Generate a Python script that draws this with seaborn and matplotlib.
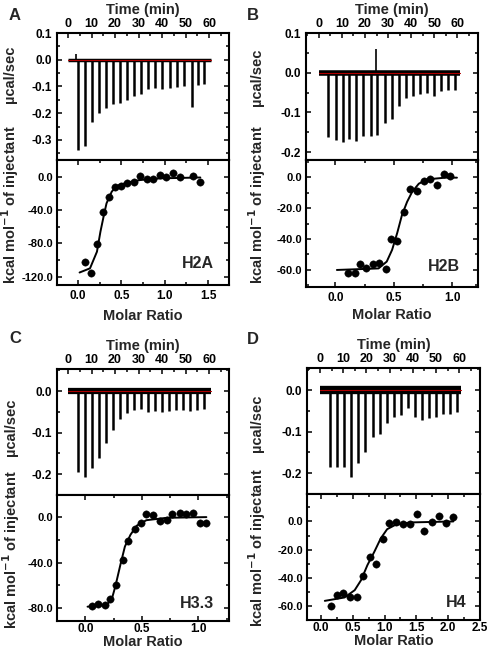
import matplotlib
matplotlib.use("Agg")
import matplotlib.pyplot as plt
import seaborn as sns
import pandas as pd
from matplotlib.ticker import FormatStrFormatter, MultipleLocator, AutoMinorLocator

sns.set_style("ticks")
plt.rcParams['font.family'] = ['Liberation Sans', 'DejaVu Sans']
plt.rcParams['font.weight'] = 'bold'
plt.rcParams['axes.unicode_minus'] = False

# ---- raw thermograms: injection time (min) and peak minimum (ucal/sec) ----
a_inj_time = [4.3, 7.4, 10.2, 13.2, 16.3, 19.1, 22.3, 25.2, 28.2, 31.2, 34.2, 37.2, 40.1, 43.3, 46.2, 49.2, 52.6, 55.2, 58.0]
a_inj_peak = [-0.336, -0.322, -0.234, -0.198, -0.180, -0.166, -0.162, -0.149, -0.137, -0.128, -0.110, -0.106, -0.108, -0.105, -0.101, -0.100, -0.178, -0.096, -0.089]
b_inj_time = [4.1, 7.3, 10.3, 13.2, 16.3, 19.3, 22.4, 25.4, 28.5, 31.7, 34.6, 37.6, 40.7, 43.8, 46.8, 50.0, 52.9, 56.0, 58.9]
b_inj_peak = [-0.161, -0.170, -0.174, -0.168, -0.171, -0.159, -0.159, -0.157, -0.128, -0.117, -0.085, -0.063, -0.058, -0.054, -0.050, -0.058, -0.046, -0.043, -0.043]
c_inj_time = [4.3, 7.2, 10.2, 13.2, 16.0, 19.1, 22.1, 25.1, 28.1, 31.1, 33.9, 37.0, 40.0, 43.0, 45.8, 48.9, 51.9, 54.9, 57.7]
c_inj_peak = [-0.194, -0.206, -0.186, -0.161, -0.126, -0.094, -0.068, -0.052, -0.046, -0.042, -0.050, -0.048, -0.051, -0.048, -0.046, -0.046, -0.048, -0.046, -0.042]
d_inj_time = [4.4, 7.3, 10.3, 13.5, 16.6, 19.6, 22.7, 25.7, 28.8, 31.8, 34.9, 37.9, 41.0, 44.0, 47.1, 50.1, 53.2, 56.2, 59.2]
d_inj_peak = [-0.184, -0.184, -0.184, -0.210, -0.176, -0.150, -0.114, -0.106, -0.080, -0.066, -0.060, -0.044, -0.064, -0.072, -0.068, -0.064, -0.058, -0.058, -0.054]

# upward artefacts in the raw traces
a_up_time = [3.4]
a_up_peak = [0.02]
b_up_time = [24.7]
b_up_peak = [0.059]

# ---- integrated heats (kcal/mol of injectant) vs molar ratio ----
a_ratio = [0.085, 0.15, 0.22, 0.29, 0.36, 0.43, 0.50, 0.57, 0.65, 0.72, 0.80, 0.87, 0.95, 1.02, 1.10, 1.18, 1.33, 1.41]
a_heat = [-102, -115, -81, -43, -24, -12, -11, -8, -6, 1, -3, -3, 2, 0, 4, 0, 1, -6]
a_fit_ratio = [0.02, 0.14, 0.22, 0.26, 0.30, 0.33, 0.39, 0.45, 0.57, 0.72, 0.95, 1.41]
a_fit_heat = [-115, -110, -90, -66, -46, -32, -18, -11, -7, -4, -2, -1]

b_ratio = [0.11, 0.166, 0.214, 0.266, 0.32, 0.37, 0.43, 0.48, 0.53, 0.586, 0.64, 0.70, 0.757, 0.81, 0.87, 0.93, 0.98]
b_heat = [-62, -62, -56, -58.5, -56, -55.7, -59.5, -40, -41, -22.5, -7.5, -9, -2.6, -1, -5, 2, 0.6]
b_fit_ratio = [0.014, 0.37, 0.44, 0.486, 0.53, 0.57, 0.614, 0.657, 0.714, 0.786, 0.94, 1.04]
b_fit_heat = [-60, -59, -54.6, -47, -36, -24.6, -16, -9.6, -4.3, -1.5, -0.4, -0.4]

c_ratio = [0.06, 0.11, 0.17, 0.22, 0.27, 0.33, 0.38, 0.435, 0.49, 0.54, 0.60, 0.66, 0.72, 0.77, 0.84, 0.89, 0.95, 1.01, 1.07]
c_heat = [-78, -76, -77, -72, -60, -38, -21.5, -11, -5.3, 2.7, 1.5, -3.8, -3.2, 2, 3.5, 2, 3.5, -5.3, -5.3]
c_fit_ratio = [0.02, 0.19, 0.235, 0.265, 0.31, 0.35, 0.40, 0.456, 0.54, 0.72, 1.07]
c_fit_heat = [-78.5, -77, -71.6, -61, -42, -26, -15.6, -7.7, -3, -0.9, -0.3]

d_ratio = [0.15, 0.25, 0.35, 0.45, 0.56, 0.66, 0.77, 0.86, 0.97, 1.07, 1.18, 1.29, 1.40, 1.51, 1.62, 1.74, 1.85, 1.96, 2.08]
d_heat = [-60, -52, -50.5, -54, -53.6, -39, -25.5, -30.5, -12.6, -1.2, -0.5, -2, -2, 5.5, -7, -0.7, 4, -1.2, 2.9]
d_fit_ratio = [0.06, 0.37, 0.53, 0.63, 0.73, 0.84, 0.94, 1.04, 1.17, 1.40, 2.08]
d_fit_heat = [-56.4, -54, -48.8, -41.7, -31, -21.4, -12, -5.5, -2.4, -0.7, 0]

W, H = 489, 651
fig = plt.figure(figsize=(W / 100, H / 100), dpi=100)


def box(left, right, top, bottom):
    return [left / W, 1 - bottom / H, (right - left) / W, (bottom - top) / H]


def style_axes(ax):
    for s in ax.spines.values():
        s.set_linewidth(1.5)
        s.set_color("black")
    ax.tick_params(which="both", direction="in", width=1.1, colors="black", labelsize=8.5)
    ax.tick_params(which="major", length=3.5)
    ax.tick_params(which="minor", length=2)
    for lab in ax.get_xticklabels() + ax.get_yticklabels():
        lab.set_fontweight("bold")


def draw_panel(p):
    l, r, t, sp, b = p["px"]
    ax1 = fig.add_axes(box(l, r, t, sp))
    ax2 = fig.add_axes(box(l, r, sp, b))

    # raw thermogram
    ax1.plot([0, 61], [0, 0], color="black", lw=p["band"], solid_capstyle="butt", zorder=2)
    ax1.vlines(p["time"], 0, p["peak"], color="black", lw=1.8, zorder=3)
    if p.get("up_time"):
        ax1.vlines(p["up_time"], 0, p["up_peak"], color="black", lw=1.2, zorder=3)
    ax1.plot([0, 61], [0, 0], color="#b00000", lw=0.8, zorder=4)
    ax1.set_xlim(*p["txlim"])
    ax1.set_ylim(*p["tylim"])
    ax1.xaxis.set_major_locator(MultipleLocator(10))
    ax1.xaxis.set_minor_locator(AutoMinorLocator(2))
    ax1.yaxis.set_major_locator(MultipleLocator(0.1))
    ax1.yaxis.set_minor_locator(AutoMinorLocator(2))
    ax1.yaxis.set_major_formatter(FormatStrFormatter("%.1f"))
    ax1.xaxis.tick_top()
    ax1.xaxis.set_label_position("top")
    style_axes(ax1)
    ax1.tick_params(which="both", top=True, bottom=False, left=True, right=True,
                    labeltop=True, labelbottom=False)
    ax1.tick_params(axis="x", pad=2.5, labelsize=9)
    ax1.set_xlabel("Time (min)", fontsize=10.5, fontweight="bold", labelpad=2.5)

    # integrated heats
    df = pd.DataFrame({"ratio": p["ratio"], "heat": p["heat"]})
    fit = pd.DataFrame({"ratio": p["fit_ratio"], "heat": p["fit_heat"]})
    sns.lineplot(data=fit, x="ratio", y="heat", ax=ax2, color="black", lw=1.4, sort=False)
    sns.scatterplot(data=df, x="ratio", y="heat", ax=ax2, color="black", s=28,
                    edgecolor="black", linewidth=0.3, zorder=5)
    ax2.set_xlim(*p["mxlim"])
    ax2.set_ylim(*p["mylim"])
    ax2.xaxis.set_major_locator(MultipleLocator(0.5))
    ax2.xaxis.set_minor_locator(AutoMinorLocator(2))
    ax2.yaxis.set_major_locator(MultipleLocator(p["ystep"]))
    ax2.yaxis.set_minor_locator(AutoMinorLocator(2))
    ax2.yaxis.set_major_formatter(FormatStrFormatter("%.1f"))
    ax2.xaxis.set_major_formatter(FormatStrFormatter("%.1f"))
    style_axes(ax2)
    ax2.tick_params(which="both", top=True, bottom=True, left=True, right=True)
    ax2.tick_params(axis="x", pad=p["xpad"])
    ax2.tick_params(axis="y", labelsize=8, pad=2.5)
    ax2.set_xlabel("Molar Ratio", fontsize=10.5, fontweight="bold", labelpad=p["mlpad"])
    ax2.set_ylabel("")
    ax2.text(p["lab_x"], p["lab_y"], p["name"], transform=ax2.transAxes, ha="right",
             va="bottom", fontsize=11.5, fontweight="bold")

    # outer labels
    fig.text(p["letter_xy"][0] / W, 1 - p["letter_xy"][1] / H, p["letter"],
             fontsize=12, fontweight="bold", ha="center", va="center")
    fig.text(p["ylab_x"] / W, 1 - p["ucal_y"] / H, "µcal/sec", rotation=90,
             fontsize=10.5, fontweight="bold", ha="center", va="center")
    fig.text(p["ylab_x"] / W, 1 - p["kcal_y"] / H, "kcal mol$^{\\mathbf{-1}}$ of injectant",
             rotation=90, fontsize=10.5, fontweight="bold", ha="center", va="center")


panels = [
    dict(letter="A", name="H2A", px=(57, 229, 33, 160, 285), letter_xy=(15, 15),
         time=a_inj_time, peak=a_inj_peak, up_time=a_up_time, up_peak=a_up_peak, band=2.5,
         txlim=(-4.7, 68.5), tylim=(-0.375, 0.1), ratio=a_ratio, heat=a_heat,
         fit_ratio=a_fit_ratio, fit_heat=a_fit_heat, mxlim=(-0.24, 1.74), mylim=(-130, 20),
         ystep=40, lab_x=0.91, lab_y=0.11, ylab_x=10, ucal_y=74, kcal_y=205,
         xpad=3.5, mlpad=5),
    dict(letter="B", name="H2B", px=(306, 478, 33, 160, 287), letter_xy=(253, 15),
         time=b_inj_time, peak=b_inj_peak, up_time=b_up_time, up_peak=b_up_peak, band=4,
         txlim=(-5.6, 69), tylim=(-0.22, 0.1), ratio=b_ratio, heat=b_heat,
         fit_ratio=b_fit_ratio, fit_heat=b_fit_heat, mxlim=(-0.25, 1.22), mylim=(-71, 11),
         ystep=20, lab_x=0.895, lab_y=0.10, ylab_x=257, ucal_y=77, kcal_y=205,
         xpad=3.5, mlpad=3),
    dict(letter="C", name="H3.3", px=(57, 229, 369, 495, 621), letter_xy=(15, 338),
         time=c_inj_time, peak=c_inj_peak, band=4.5,
         txlim=(-4.7, 68.5), tylim=(-0.25, 0.053), ratio=c_ratio, heat=c_heat,
         fit_ratio=c_fit_ratio, fit_heat=c_fit_heat, mxlim=(-0.25, 1.27), mylim=(-91, 19),
         ystep=40, lab_x=0.91, lab_y=0.08, ylab_x=11, ucal_y=427, kcal_y=550,
         xpad=1.5, mlpad=0),
    dict(letter="D", name="H4", px=(307, 480, 368, 494, 620), letter_xy=(253, 340),
         time=d_inj_time, peak=d_inj_peak, band=6,
         txlim=(-5.6, 69), tylim=(-0.25, 0.053), ratio=d_ratio, heat=d_heat,
         fit_ratio=d_fit_ratio, fit_heat=d_fit_heat, mxlim=(-0.22, 2.5), mylim=(-70, 19.5),
         ystep=20, lab_x=0.92, lab_y=0.08, ylab_x=257, ucal_y=423, kcal_y=548,
         xpad=1.5, mlpad=0),
]

for p in panels:
    draw_panel(p)

fig.savefig("out.png", dpi=100)
